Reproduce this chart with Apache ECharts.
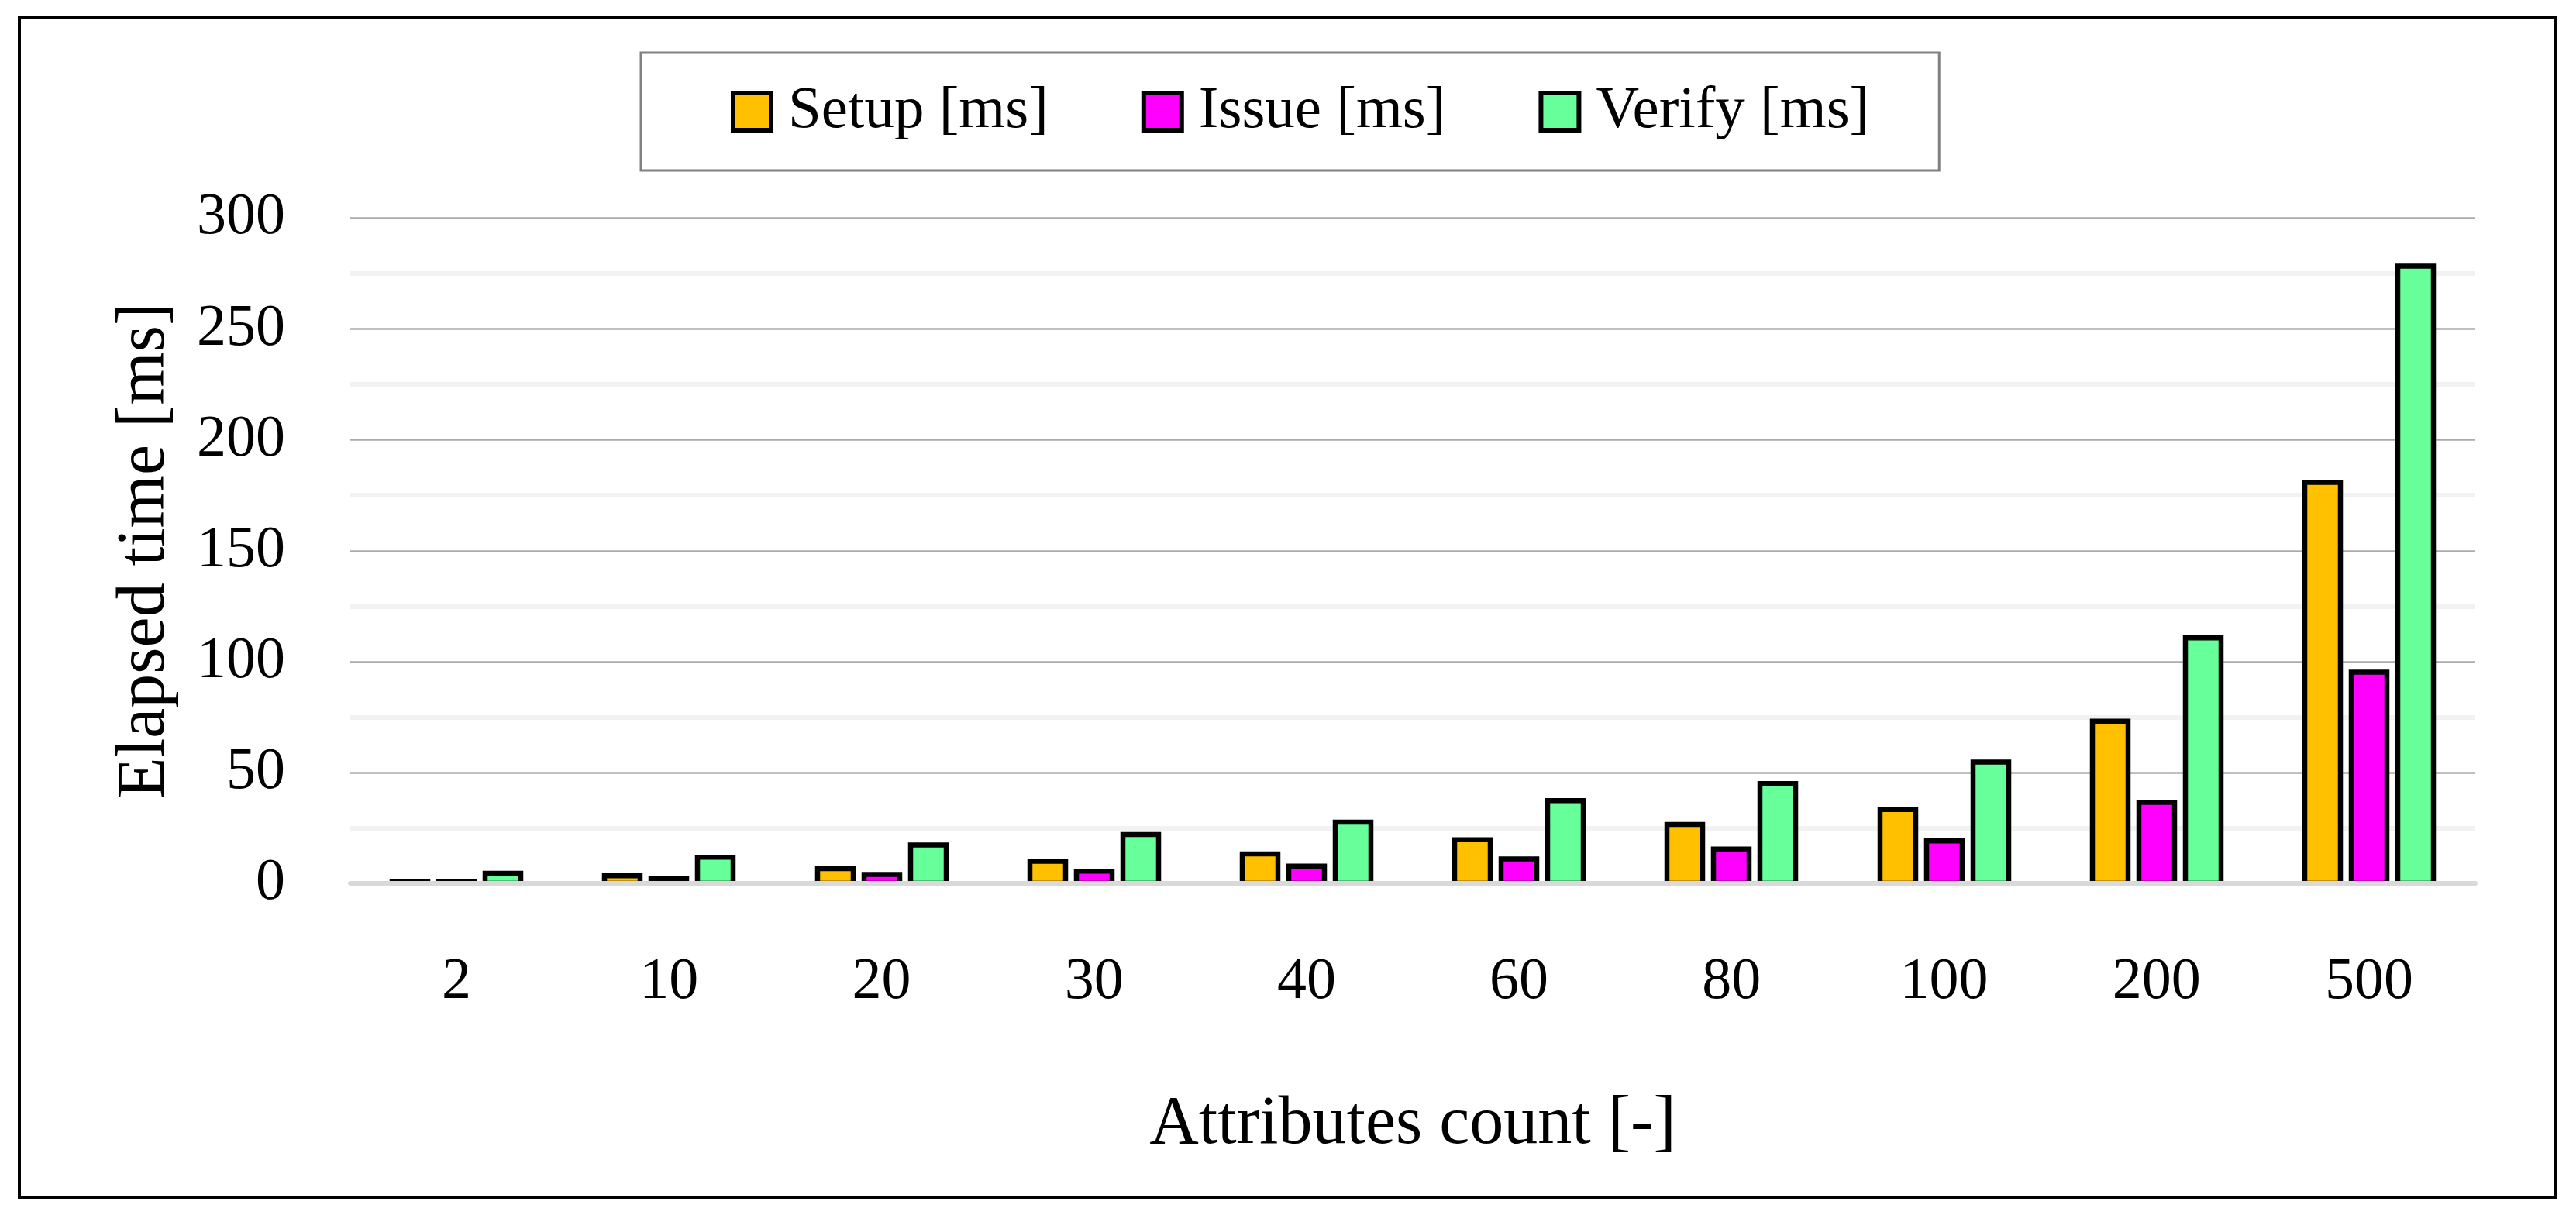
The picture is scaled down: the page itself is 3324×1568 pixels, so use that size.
<!DOCTYPE html>
<html>
<head>
<meta charset="utf-8">
<script src="https://cdn.jsdelivr.net/npm/echarts@6/dist/echarts.min.js"></script>
<style>
html,body{margin:0;padding:0;background:#fff;}
#chart{width:3324px;height:1568px;}
</style>
</head>
<body>
<div id="chart"></div>
<script>
const categories = ['2','10','20','30','40','60','80','100','200','500'];
const setupMs  = [1.0, 3.4, 6.6, 10.0, 13.3, 19.7, 26.6, 33.3, 73.1, 180.8];
const issueMs  = [0.9, 2.0, 4.0, 5.5, 7.8, 11.0, 15.5, 19.1, 36.5, 95.2];
const verifyMs = [4.5, 11.8, 17.3, 22.0, 27.6, 37.3, 45.0, 54.7, 110.7, 278.3];
const seriesNames = ['Setup [ms]', 'Issue [ms]', 'Verify [ms]'];
const seriesColors = ['#FFC000', '#FF00FF', '#66FF99'];

const FONT = 'Liberation Serif';
const BAR_STEP = 60;      // centre-to-centre distance of bars in a group (px)
const BORDER = 6.5;
const BAR_W = 52.5 - BORDER; // rect width; stroke is centred on the edge

const chart = echarts.init(document.getElementById('chart'), null, {renderer: 'canvas'});

function mkSeries(i, values) {
  const offset = (i - 1) * BAR_STEP;
  return {
    name: seriesNames[i],
    type: 'custom',
    data: values.map((v, k) => [k, v]),
    encode: {x: 0, y: 1},
    itemStyle: {color: seriesColors[i], borderColor: '#000', borderWidth: BORDER},
    renderItem: function (params, api) {
      const base = api.coord([api.value(0), 0]);
      const top = api.coord([api.value(0), api.value(1)]);
      return {
        type: 'rect',
        shape: {x: Math.round(base[0] + offset - BAR_W / 2), y: top[1], width: BAR_W, height: base[1] - top[1]},
        style: {fill: seriesColors[i], stroke: '#000', lineWidth: BORDER}
      };
    },
    emphasis: {disabled: true}
  };
}

chart.setOption({
  animation: false,
  backgroundColor: '#fff',
  textStyle: {fontFamily: FONT, color: '#000'},
  graphic: [{
    type: 'rect',
    shape: {x: 25, y: 23, width: 3272, height: 1522},
    style: {fill: 'none', stroke: '#000', lineWidth: 4},
    silent: true
  }],
  legend: {
    top: 68,
    left: 827,
    icon: 'rect',
    data: seriesNames,
    itemWidth: 49,
    itemHeight: 48,
    itemGap: 120,
    itemStyle: {borderColor: '#000', borderWidth: 6},
    padding: [31, 90, 31, 116],
    borderColor: '#808080',
    borderWidth: 3,
    textStyle: {fontFamily: FONT, fontSize: 77, lineHeight: 90, color: '#000', padding: [0, 0, 0, 17]},
    selectedMode: false
  },
  grid: {left: 452, right: 130, top: 281.5, bottom: 428, containLabel: false},
  xAxis: {
    type: 'category',
    data: categories,
    z: 3,
    axisLine: {show: true, lineStyle: {color: '#d9d9d9', width: 6}},
    axisTick: {show: false},
    axisLabel: {fontFamily: FONT, fontSize: 76, color: '#000', margin: 90},
    name: 'Attributes count [-]',
    nameLocation: 'middle',
    nameGap: 268,
    nameTextStyle: {fontFamily: FONT, fontSize: 88, color: '#000'}
  },
  yAxis: {
    type: 'value',
    min: 0, max: 300, interval: 50,
    axisLine: {show: false},
    axisTick: {show: false},
    axisLabel: {fontFamily: FONT, fontSize: 76, color: '#000', margin: 84},
    splitLine: {show: true, lineStyle: {color: '#aeaaaa', width: 2.5}},
    minorTick: {show: false, splitNumber: 2},
    minorSplitLine: {show: true, lineStyle: {color: '#f2f2f2', width: 6}},
    name: 'Elapsed time [ms]',
    nameLocation: 'middle',
    nameGap: 220,
    nameRotate: 90,
    nameTextStyle: {fontFamily: FONT, fontSize: 88, color: '#000'}
  },
  series: [mkSeries(0, setupMs), mkSeries(1, issueMs), mkSeries(2, verifyMs)]
});
</script>
</body>
</html>
